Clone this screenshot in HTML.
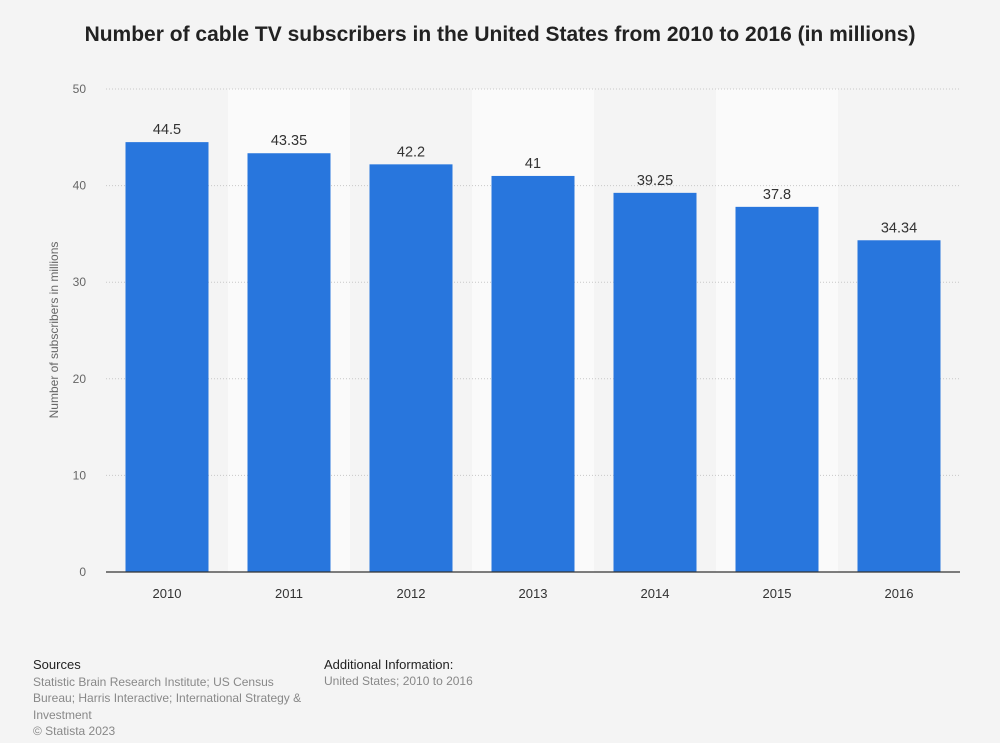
<!DOCTYPE html>
<html><head><meta charset="utf-8"><style>
body{margin:0;width:1000px;height:743px;background:#f4f4f4;font-family:"Liberation Sans",sans-serif;position:relative;overflow:hidden}
.t{position:absolute;white-space:nowrap}
</style></head><body>
<div class="t" style="left:0;width:1000px;text-align:center;top:23px;font-size:21px;font-weight:bold;color:#222">Number of cable TV subscribers in the United States from 2010 to 2016 (in millions)</div>
<svg id="c" width="1000" height="640" style="position:absolute;left:0;top:0"></svg>
<div class="t" style="left:33px;top:657px;font-size:13px;color:#222">Sources</div>
<div class="t" style="left:33px;top:674px;font-size:12px;color:#888;line-height:16.3px;white-space:normal;width:278px">Statistic Brain Research Institute; US Census Bureau; Harris Interactive; International Strategy &amp; Investment<br>© Statista 2023</div>
<div class="t" style="left:324px;top:657px;font-size:13px;color:#222">Additional Information:</div>
<div class="t" style="left:324px;top:674px;font-size:12px;color:#888">United States; 2010 to 2016</div>
<script>
const categories=["2010","2011","2012","2013","2014","2015","2016"];
const values=[44.5,43.35,42.2,41,39.25,37.8,34.34];
const valueLabels=["44.5","43.35","42.2","41","39.25","37.8","34.34"];
const yTicks=[0,10,20,30,40,50];
const svg=document.getElementById('c');const NS='http://www.w3.org/2000/svg';
const x0=106,x1=960,y0=572,yTop=89,yMax=50;
const bw=(x1-x0)/categories.length;
const y=v=>y0-(v/yMax)*(y0-yTop);
const xc=i=>x0+bw*(i+0.5);
function mk(t,a){const e=document.createElementNS(NS,t);for(const k in a)e.setAttribute(k,a[k]);svg.appendChild(e);return e;}
categories.forEach((c,i)=>{if(i%2==1){const r=mk('rect',{x:x0+bw*i,y:yTop,width:bw,height:y0-yTop,fill:'#fafafa'});

}});
yTicks.forEach(v=>{if(v>0){const l=mk('line',{x1:x0,x2:x1,y1:y(v),y2:y(v),stroke:'#c8c8c8','stroke-dasharray':'1,2'});

}
const t=mk('text',{x:86,y:y(v)+4,'text-anchor':'end','font-size':12,fill:'#666'});t.textContent=v;

});
categories.forEach((c,i)=>{const w=83;const b=mk('rect',{x:xc(i)-w/2,y:y(values[i]),width:w,height:y0-y(values[i]),fill:'#2876dd'});


const t=mk('text',{x:xc(i),y:y(values[i])-8,'text-anchor':'middle','font-size':14.5,fill:'#333'});t.textContent=valueLabels[i];


const xl=mk('text',{x:xc(i),y:598,'text-anchor':'middle','font-size':13,fill:'#333'});xl.textContent=c;

});
const ax=mk('line',{x1:x0,x2:x1,y1:y0,y2:y0,stroke:'#333','stroke-width':1.3});


const yt=mk('text',{x:0,y:0,'text-anchor':'middle','font-size':12,fill:'#666',transform:'translate(58,330) rotate(-90)'});yt.textContent='Number of subscribers in millions';


</script>
</body></html>
